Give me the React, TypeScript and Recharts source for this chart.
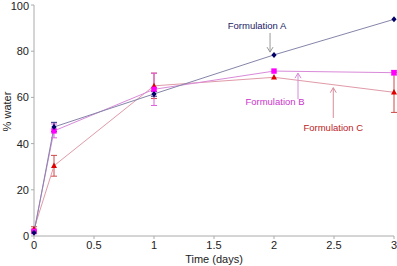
import React from 'react';
import { LineChart, Line, XAxis, YAxis, ErrorBar, ReferenceLine } from 'recharts';

const times = [0, 0.1667, 1, 2, 3];
const formulationA = [1.4, 47.2, 61.5, 78.4, 93.8];
const formulationB = [2, 45.5, 63.5, 71.4, 70.7];
const formulationC = [3, 30.4, 65, 68.7, 62.2];
const errA = [0, 2, 1, 0, 0];
const errB = [1, 3, 7, 0, 1];
const errC = [1, 4.5, 5.5, 0, 8.7];
const xTicks = [0, 0.5, 1, 1.5, 2, 2.5, 3];
const yTicks = [0, 20, 40, 60, 80, 100];

const rows = times.map((t, i) => ({
  t,
  a: formulationA[i],
  b: formulationB[i],
  c: formulationC[i],
  ea: errA[i],
  eb: errB[i],
  ec: errC[i],
}));

const FONT = '"Liberation Sans", Arial, sans-serif';

const Diamond = (p: any) => {
  const { cx, cy } = p;
  if (cx == null || cy == null) return null;
  return <polygon key={p.key} points={`${cx},${cy - 3} ${cx + 2.6},${cy} ${cx},${cy + 3} ${cx - 2.6},${cy}`} fill="#000066" />;
};
const Square = (p: any) => {
  const { cx, cy } = p;
  if (cx == null || cy == null) return null;
  return <rect key={p.key} x={cx - 2.7} y={cy - 2.7} width={5.4} height={5.4} fill="#ff00ff" />;
};
const Triangle = (p: any) => {
  const { cx, cy } = p;
  if (cx == null || cy == null) return null;
  return <polygon key={p.key} points={`${cx},${cy - 3.2} ${cx + 3},${cy + 2.3} ${cx - 3},${cy + 2.3}`} fill="#dd0000" />;
};

// arrow pointing from (x1,y1) to (x2,y2), plus its caption
const arrow = (text: string, color: string, lineColor: string, tx: number, ty: number) => (p: any) => {
  const { x1, y1, x2, y2 } = p;
  const dir = y2 > y1 ? -1 : 1;
  return (
    <g>
      <line x1={x1} y1={y1} x2={x2} y2={y2} stroke={lineColor} strokeWidth={1} />
      <polyline points={`${x2 - 3},${y2 + dir * 5} ${x2},${y2} ${x2 + 3},${y2 + dir * 5}`} fill="none" stroke={lineColor} strokeWidth={1} />
      <text x={x1 + tx} y={y1 + ty} fill={color} fontSize={9.5} fontFamily={FONT} textAnchor="middle">
        {text}
      </text>
    </g>
  );
};

export default function App() {
  return (
    <div style={{ position: 'fixed', left: 0, top: 0, background: '#fff' }}>
      <LineChart width={397} height={266} data={rows} margin={{ top: 5, right: 3, bottom: 0, left: 0 }}>
        <XAxis
          dataKey="t"
          type="number"
          domain={[0, 3]}
          ticks={xTicks}
          tick={{ fill: '#222', fontSize: 11, fontFamily: FONT }}
          axisLine={{ stroke: '#aaa' }}
          tickLine={{ stroke: '#aaa' }}
          tickSize={3}
          height={30}
          label={{ value: 'Time (days)', position: 'insideBottom', offset: 3, fill: '#222', fontSize: 11, fontFamily: FONT }}
        />
        <YAxis
          domain={[0, 100]}
          ticks={yTicks}
          tick={{ fill: '#222', fontSize: 11, fontFamily: FONT }}
          axisLine={{ stroke: '#aaa' }}
          tickLine={{ stroke: '#aaa' }}
          tickSize={3}
          width={34}
          label={{
            content: (p: any) => {
              const vb = p.viewBox;
              const cy = vb.y + vb.height / 2 - 9;
              return (
                <text x={11} y={cy} transform={`rotate(-90 11 ${cy})`} textAnchor="middle" fill="#222" fontSize={11} fontFamily={FONT}>
                  % water
                </text>
              );
            },
          }}
        />
        <Line dataKey="c" stroke="#e09aa8" strokeWidth={1} dot={<Triangle />} isAnimationActive={false}>
          <ErrorBar dataKey="ec" direction="y" width={3} stroke="#d04848" strokeWidth={1} />
        </Line>
        <Line dataKey="b" stroke="#d98ad9" strokeWidth={1} dot={<Square />} isAnimationActive={false}>
          <ErrorBar dataKey="eb" direction="y" width={3} stroke="#e060e0" strokeWidth={1} />
        </Line>
        <Line dataKey="a" stroke="#8585aa" strokeWidth={1} dot={<Diamond />} isAnimationActive={false}>
          <ErrorBar dataKey="ea" direction="y" width={3} stroke="#333388" strokeWidth={1} />
        </Line>
        <ReferenceLine
          segment={[{ x: 1.967, y: 87.9 }, { x: 1.967, y: 79.6 }]}
          shape={arrow('Formulation A', '#1a1a66', '#999', -13, -4)}
        />
        <ReferenceLine
          segment={[{ x: 2.2, y: 59.3 }, { x: 2.2, y: 70.5 }]}
          shape={arrow('Formulation B', '#cc33cc', '#d68ad6', -23, 6)}
        />
        <ReferenceLine
          segment={[{ x: 2.494, y: 51.1 }, { x: 2.494, y: 64.2 }]}
          shape={arrow('Formulation C', '#bb2222', '#d98a9a', 0, 13)}
        />
      </LineChart>
    </div>
  );
}
